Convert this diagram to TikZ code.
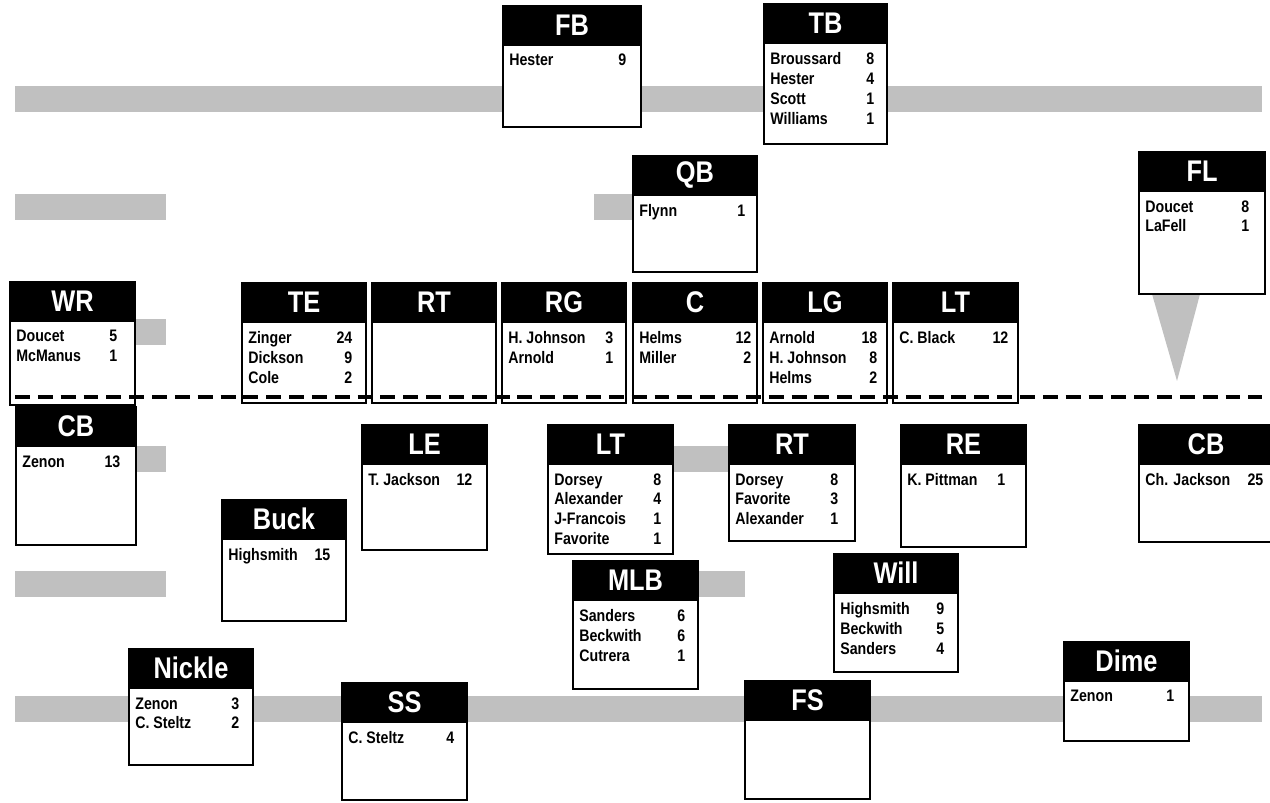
\documentclass[tikz,border=0pt]{standalone}
\usepackage{fontspec}
\setmainfont{Liberation Sans}[FakeStretch=0.85]
\usepackage{tikz}
\usetikzlibrary{calc}
\usepackage{xcolor}
\definecolor{fieldgrey}{RGB}{192,192,192}
\newlength{\pxlen}
\setlength{\pxlen}{0.02cm}
\newlength{\numcol}
\newcommand{\pl}[2]{\makebox[\numcol]{#1\hfill#2}}
% [number column] name, top left, width, height, title, rows
\newcommand{\posbox}[7][104]{%
  \numcol=#1\pxlen
  \node[poshead,minimum width=#4\pxlen,anchor=north west] (#2h) at (#3) {#6};
  \node[posbody,minimum width={(#4-2)*\pxlen},minimum height={(#5-41)*\pxlen},
    anchor=north] (#2) at (#2h.south) {};
  \node[posrows,anchor=north west] (#2r) at ([shift={(6,9)}]#2.north west) {#7};
}

\begin{document}
\begin{tikzpicture}[x=0.02cm, y=-0.02cm,
    poshead/.style={fill=black,text=white,inner sep=0,outer sep=0,minimum height=40\pxlen,
      font=\fontsize{17}{20}\selectfont\bfseries},
    posbody/.style={draw=black,fill=white,line width=1.1pt,inner sep=0,outer sep=0},
    posrows/.style={inner sep=0,align=left,font=\fontsize{9.5}{11.34}\selectfont\bfseries},
    bar/.style={fill=fieldgrey},
    scrimmage/.style={line width=2.2pt,dash pattern=on 8.5pt off 4.5pt}]
  \useasboundingbox (0,0) rectangle (1270,803);
  \clip (0,0) rectangle (1270,803);
  % Grey bands
  \fill[bar] (15,86) rectangle (1262,112);
  \fill[bar] (15,194) rectangle (166,220);
  \fill[bar] (594,194) rectangle (632,220);
  \fill[bar] (135,319) rectangle (166,345);
  \fill[bar] (135,446) rectangle (166,472);
  \fill[bar] (674,446) rectangle (728,472);
  \fill[bar] (15,571) rectangle (166,597);
  \fill[bar] (699,571) rectangle (745,597);
  \fill[bar] (15,696) rectangle (1262,722);
  \fill[bar] (1152,294) -- (1200,294) -- (1177,381) -- cycle;
  % Offense
  \posbox[117]{fb}{502,5}{140}{123}{FB}{\pl{Hester}{9}}
  \posbox{tb}{763,3}{125}{142}{TB}{\pl{Broussard}{8}\\\pl{Hester}{4}\\\pl{Scott}{1}\\\pl{Williams}{1}}
  \posbox[106]{qb}{632,155}{126}{118}{QB}{\pl{Flynn}{1}}
  \posbox{fl}{1138,151}{128}{144}{FL}{\pl{Doucet}{8}\\\pl{LaFell}{1}}
  \posbox[101]{wr}{9,281}{127}{125}{WR}{\pl{Doucet}{5}\\\pl{McManus}{1}}
  \posbox{te}{241,282}{126}{122}{TE}{\pl{Zinger}{24}\\\pl{Dickson}{9}\\\pl{Cole}{2}}
  \posbox{rt}{371,282}{126}{122}{RT}{}
  \posbox[105]{rg}{501,282}{126}{122}{RG}{\pl{H. Johnson}{3}\\\pl{Arnold}{1}}
  \posbox[112]{c}{632,282}{126}{122}{C}{\pl{Helms}{12}\\\pl{Miller}{2}}
  \posbox[108]{lg}{762,282}{126}{122}{LG}{\pl{Arnold}{18}\\\pl{H. Johnson}{8}\\\pl{Helms}{2}}
  \posbox[109]{lt}{892,282}{127}{122}{LT}{\pl{C. Black}{12}}
  % Defense
  \posbox[98]{cbl}{15,406}{122}{140}{CB}{\pl{Zenon}{13}}
  \posbox{le}{361,424}{127}{127}{LE}{\pl{T. Jackson}{12}}
  \posbox[107]{dlt}{547,424}{127}{131}{LT}{\pl{Dorsey}{8}\\\pl{Alexander}{4}\\\pl{J-Francois}{1}\\\pl{Favorite}{1}}
  \posbox[103]{drt}{728,424}{128}{118}{RT}{\pl{Dorsey}{8}\\\pl{Favorite}{3}\\\pl{Alexander}{1}}
  \posbox[98]{re}{900,424}{127}{124}{RE}{\pl{K. Pittman}{1}}
  \posbox[118]{cbr}{1138,424}{136}{119}{CB}{\pl{Ch. Jackson}{25}}
  \posbox[102]{buck}{221,499}{126}{123}{Buck}{\pl{Highsmith}{15}}
  \posbox[106]{mlb}{572,560}{127}{130}{MLB}{\pl{Sanders}{6}\\\pl{Beckwith}{6}\\\pl{Cutrera}{1}}
  \posbox{will}{833,553}{126}{120}{Will}{\pl{Highsmith}{9}\\\pl{Beckwith}{5}\\\pl{Sanders}{4}}
  \posbox{nickle}{128,648}{126}{118}{Nickle}{\pl{Zenon}{3}\\\pl{C. Steltz}{2}}
  \posbox[106]{ss}{341,682}{127}{119}{SS}{\pl{C. Steltz}{4}}
  \posbox{fs}{744,680}{127}{120}{FS}{}
  \posbox{dime}{1063,641}{127}{101}{Dime}{\pl{Zenon}{1}}
  % Line of scrimmage
  \draw[scrimmage] (15,397) -- (1262,397);
\end{tikzpicture}
\end{document}
